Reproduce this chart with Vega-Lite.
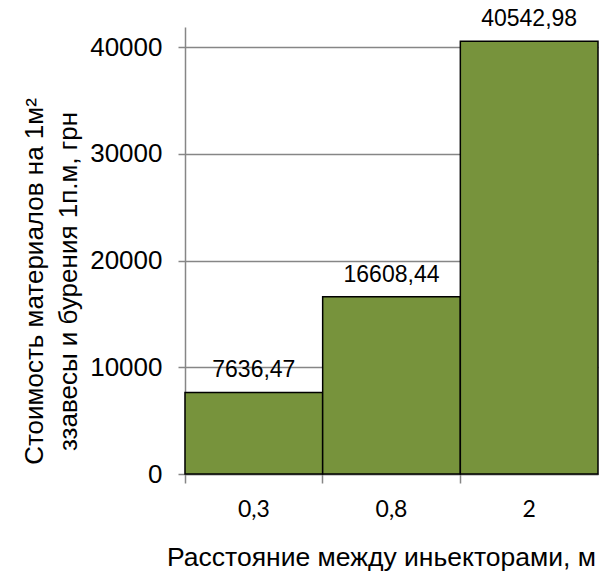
{
  "$schema": "https://vega.github.io/schema/vega-lite/v6.json",
  "autosize": "none",
  "width": 413,
  "height": 447,
  "padding": {"left": 185, "top": 27, "right": 2, "bottom": 97},
  "background": "white",
  "data": {
    "values": [
      {"d": "0,3", "cost": 7636.47, "lbl": "7636,47"},
      {"d": "0,8", "cost": 16608.44, "lbl": "16608,44"},
      {"d": "2", "cost": 40542.98, "lbl": "40542,98"}
    ]
  },
  "encoding": {
    "x": {
      "field": "d",
      "type": "nominal",
      "sort": null,
      "scale": {"paddingInner": 0, "paddingOuter": 0},
      "axis": {
        "title": "Расстояние между иньекторами, м",
        "labelAngle": 0,
        "bandPosition": 0,
        "labelFont": "Lato",
        "labelFontSize": 23,
        "labelColor": "#000000",
        "labelBaseline": "middle",
        "labelPadding": 26,
        "tickSize": 9,
        "tickColor": "#868686",
        "tickWidth": 1.5,
        "domainColor": "#868686",
        "domainWidth": 1.5,
        "titleFont": "Liberation Sans",
        "titleFontSize": 26.5,
        "titleFontWeight": "normal",
        "titleColor": "#000000",
        "titleBaseline": "alphabetic",
        "titleX": 196,
        "titleY": 91
      }
    },
    "y": {
      "field": "cost",
      "type": "quantitative",
      "scale": {"domain": [0, 41874], "nice": false},
      "axis": {
        "title": ["Стоимость материалов на 1м²", "ззавесы и бурения 1п.м, грн"],
        "values": [0, 10000, 20000, 30000, 40000],
        "format": "d",
        "grid": true,
        "gridColor": "#868686",
        "gridWidth": 1.5,
        "domainColor": "#868686",
        "domainWidth": 1.5,
        "tickColor": "#868686",
        "tickWidth": 1.5,
        "tickSize": 7,
        "labelPadding": 16,
        "labelFont": "Liberation Sans",
        "labelFontSize": 26,
        "labelColor": "#000000",
        "titleFont": "Liberation Sans",
        "titleFontSize": 26,
        "titleFontWeight": "normal",
        "titleColor": "#000000",
        "titleAngle": -90,
        "titleAlign": "center",
        "titleBaseline": "middle",
        "titleLineHeight": 34,
        "titleX": -151,
        "titleY": 254
      }
    }
  },
  "layer": [
    {
      "mark": {"type": "bar", "color": "#77933C", "stroke": "#000000", "strokeWidth": 1.5}
    },
    {
      "mark": {"type": "text", "font": "Liberation Sans", "fontSize": 23, "color": "#000000", "baseline": "alphabetic", "dy": -15},
      "encoding": {"text": {"field": "lbl"}}
    }
  ],
  "config": {"view": {"stroke": null}}
}
